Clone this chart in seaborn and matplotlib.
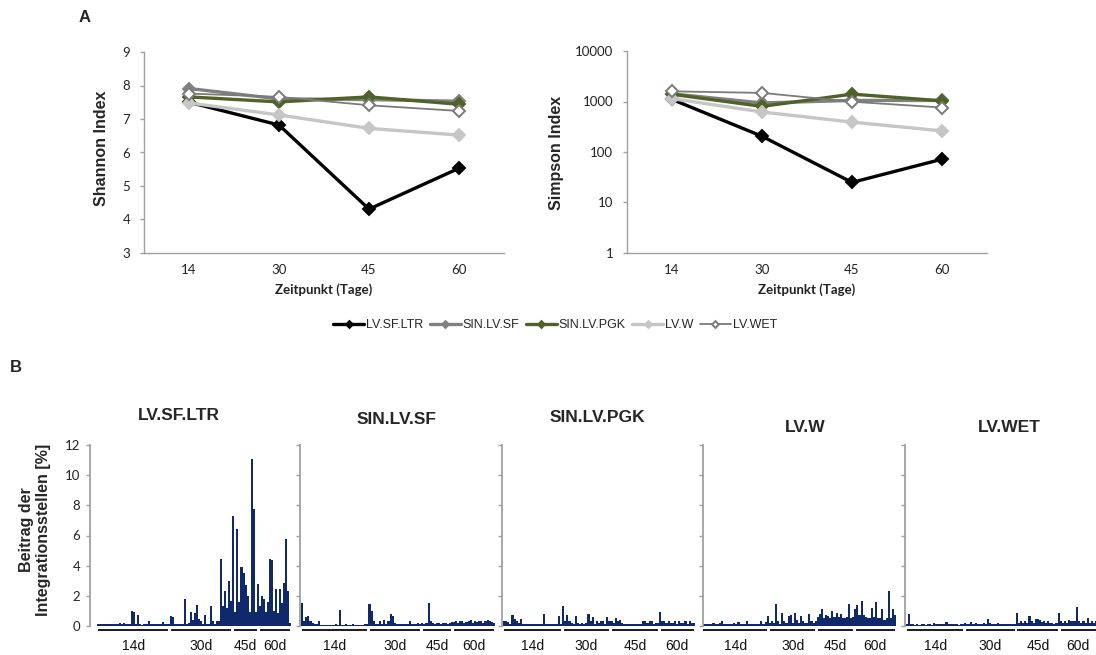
import numpy as np
import matplotlib
matplotlib.use("Agg")
import matplotlib.pyplot as plt
import matplotlib.transforms as mtransforms
import seaborn as sns

# ---------------------------------------------------------------- data (A)
days = ["14", "30", "45", "60"]
vectors = ["LV.SF.LTR", "SIN.LV.SF", "SIN.LV.PGK", "LV.W", "LV.WET"]

shannon_lv_sf_ltr = [7.50, 6.82, 4.31, 5.53]
shannon_sin_lv_sf = [7.91, 7.60, 7.58, 7.53]
shannon_sin_lv_pgk = [7.66, 7.51, 7.66, 7.44]
shannon_lv_w = [7.48, 7.12, 6.72, 6.52]
shannon_lv_wet = [7.76, 7.66, 7.41, 7.24]

simpson_lv_sf_ltr = [1100, 205, 25, 72]
simpson_sin_lv_sf = [1420, 935, 1050, 1050]
simpson_sin_lv_pgk = [1390, 800, 1400, 1030]
simpson_lv_w = [1140, 620, 390, 262]
simpson_lv_wet = [1590, 1480, 990, 760]

# ---------------------------------------------------------------- data (B)
# Beitrag einzelner Integrationsstellen [%] je Vektor und Zeitpunkt
group_labels = ["14d", "30d", "45d", "60d"]

ltr_14 = [0.15, 0.15, 0.1, 0.1, 0.15, 0.1, 0.15, 0.1, 0.1, 0.15,
          0.1, 0.2, 0.15, 0.2, 0.1, 0.15, 0.1, 1.0, 0.9, 0.1,
          0.73, 0.1, 0.05, 0.1, 0.1, 0.35, 0.15, 0.1, 0.1, 0.15,
          0.1, 0.1, 0.25, 0.15, 0.1, 0.1]
ltr_30 = [0.65, 0.6, 0.1, 0.15, 0.1, 0.15, 0.1, 1.8, 0.15, 0.2,
          0.9, 0.4, 0.88, 1.4, 0.45, 0.3, 0.1, 0.73, 0.15, 0.1,
          1.35, 0.3, 0.15, 0.3, 0.3, 4.45, 1.35, 2.3, 1.2, 3.0,
          1.65]
ltr_45 = [7.3, 0.9, 6.4, 1.6, 3.9, 3.5, 2.7, 2.0, 0.9, 11.1,
          7.75, 0.9, 2.76]
ltr_60 = [1.35, 2.0, 1.77, 0.9, 1.6, 4.45, 4.37, 1.0, 2.45, 0.88,
          2.45, 1.55, 2.83, 5.8, 2.3, 0.2]

sf_14 = [1.5, 0.3, 0.6, 0.64, 0.3, 0.2, 0.15, 0.1, 0.35, 0.05,
         0.05, 0.05, 0.05, 0.05, 0.05, 0.05, 0.1, 0.05, 1.05, 0.05,
         0.05, 0.1, 0.05, 0.05, 0.1, 0.05, 0.05, 0.05, 0.05, 0.05,
         0.1, 0.15]
sf_30 = [1.45, 0.98, 0.3, 0.15, 0.1, 0.3, 0.15, 0.4, 0.1, 0.3,
         0.8, 0.65, 0.2, 0.1, 0.15, 0.1, 0.1, 0.15, 0.1, 0.35,
         0.15, 0.1, 0.15, 0.2, 0.15]
sf_45 = [0.2, 0.15, 0.2, 1.5, 0.3, 0.2, 0.15, 0.2, 0.2, 0.15,
         0.2, 0.2, 0.15, 0.2, 0.25]
sf_60 = [0.25, 0.3, 0.2, 0.3, 0.35, 0.2, 0.25, 0.3, 0.4, 0.2,
         0.3, 0.25, 0.3, 0.3, 0.2, 0.3, 0.4, 0.3, 0.25, 0.2]

pgk_14 = [0.35, 0.3, 0.25, 0.15, 0.75, 0.45, 0.3, 0.2, 0.45, 0.1,
          0.1, 0.15, 0.1, 0.1, 0.1, 0.15, 0.1, 0.1, 0.15, 0.8,
          0.1, 0.1, 0.15, 0.1, 0.1, 0.1, 0.64, 0.1]
pgk_30 = [1.3, 0.35, 0.75, 0.3, 0.2, 0.15, 0.64, 0.2, 0.15, 0.2,
          0.15, 0.2, 0.82, 0.3, 0.57, 0.15, 0.3, 0.2, 0.35, 0.3,
          0.15, 0.57, 0.35]
pgk_45 = [0.35, 0.2, 0.55, 0.3, 0.4, 0.2, 0.15, 0.1, 0.15, 0.1,
          0.1, 0.15, 0.1, 0.15, 0.1, 0.3, 0.35, 0.2, 0.3, 0.35,
          0.15, 0.2, 0.2]
pgk_60 = [0.9, 0.35, 0.3, 0.2, 0.35, 0.2, 0.2, 0.3, 0.15, 0.3,
          0.2, 0.2, 0.3, 0.15, 0.3, 0.2, 0.2]

w_14 = [0.15, 0.1, 0.15, 0.1, 0.15, 0.2, 0.1, 0.15, 0.2, 0.3,
        0.15, 0.1, 0.1, 0.15, 0.1, 0.2, 0.1, 0.25, 0.15, 0.1,
        0.1, 0.3, 0.15, 0.1, 0.1, 0.15, 0.1, 0.1, 0.35, 0.15,
        0.25, 0.64]
w_30 = [0.2, 0.3, 0.2, 1.43, 0.3, 0.15, 0.86, 0.3, 0.2, 0.68,
        0.75, 0.2, 0.86, 0.4, 0.2, 0.64, 0.3, 0.2, 0.2, 0.82,
        0.3, 0.2, 0.3]
w_45 = [0.6, 0.8, 1.13, 0.5, 0.7, 0.68, 0.5, 0.98, 0.6, 0.86,
        0.6, 0.82, 0.5, 0.5, 0.6, 1.43, 0.5, 0.6]
w_60 = [1.1, 1.36, 0.7, 1.66, 0.7, 0.6, 0.5, 0.5, 1.2, 0.6,
        1.6, 0.5, 0.5, 1.13, 0.4, 0.5, 2.34, 0.5, 1.1, 0.7]

wet_14 = [0.1, 0.82, 0.1, 0.1, 0.05, 0.1, 0.05, 0.1, 0.1, 0.05,
          0.1, 0.15, 0.05, 0.2, 0.1, 0.15, 0.1, 0.15, 0.1, 0.25,
          0.1, 0.1, 0.15, 0.1, 0.1, 0.05, 0.1, 0.1]
wet_30 = [0.2, 0.1, 0.15, 0.25, 0.1, 0.2, 0.15, 0.1, 0.15, 0.2,
          0.1, 0.48, 0.2, 0.1, 0.15, 0.1, 0.2, 0.1, 0.15, 0.1,
          0.15, 0.1, 0.1, 0.1, 0.15]
wet_45 = [0.86, 0.2, 0.3, 0.2, 0.3, 0.2, 0.64, 0.3, 0.2, 0.48,
          0.45, 0.4, 0.25, 0.3, 0.2, 0.35, 0.2, 0.2, 0.15, 0.2,
          0.86]
wet_60 = [0.3, 0.2, 0.35, 0.2, 0.4, 0.3, 0.35, 0.3, 1.25, 0.35,
          0.2, 0.3, 0.2, 0.52, 0.2, 0.3, 0.2, 0.3]

clonality = {
    "LV.SF.LTR": [ltr_14, ltr_30, ltr_45, ltr_60],
    "SIN.LV.SF": [sf_14, sf_30, sf_45, sf_60],
    "SIN.LV.PGK": [pgk_14, pgk_30, pgk_45, pgk_60],
    "LV.W": [w_14, w_30, w_45, w_60],
    "LV.WET": [wet_14, wet_30, wet_45, wet_60],
}

# ---------------------------------------------------------------- styling
sns.set_theme(style="white")
plt.rcParams["font.family"] = ["Liberation Sans", "DejaVu Sans"]

W, H = 1096, 655
fig = plt.figure(figsize=(W / 100, H / 100), dpi=100)


def fx(px):
    return px / W


def fy(py):
    return 1 - py / H


AXIS_GREY = "#a0a0a0"
NAVY = "#10296a"
TICK_FONT = {"family": "Lato", "size": 9.5}

series_style = {
    "LV.SF.LTR": dict(color="black", lw=2.4, mfc="black", mec="black", ms=6),
    "SIN.LV.SF": dict(color="#808080", lw=2.4, mfc="#808080", mec="#808080", ms=6),
    "SIN.LV.PGK": dict(color="#4f6228", lw=2.4, mfc="#4f6228", mec="#4f6228", ms=6),
    "LV.W": dict(color="#c6c6c6", lw=2.4, mfc="#c6c6c6", mec="#c6c6c6", ms=6),
    "LV.WET": dict(color="#7a7a7a", lw=1.3, mfc="white", mec="#7a7a7a", ms=6.5),
}

shannon = dict(zip(vectors, [shannon_lv_sf_ltr, shannon_sin_lv_sf, shannon_sin_lv_pgk,
                             shannon_lv_w, shannon_lv_wet]))
simpson = dict(zip(vectors, [simpson_lv_sf_ltr, simpson_sin_lv_sf, simpson_sin_lv_pgk,
                             simpson_lv_w, simpson_lv_wet]))

pos = np.arange(len(days))


def diversity_axes(rect, values, log=False):
    ax = fig.add_axes(rect)
    for name in vectors:
        st = series_style[name]
        sns.lineplot(x=pos, y=values[name], ax=ax, color=st["color"], lw=st["lw"],
                     marker="D", markersize=st["ms"], markerfacecolor=st["mfc"],
                     markeredgecolor=st["mec"], markeredgewidth=1.4, label=name)
    if ax.get_legend() is not None:
        ax.get_legend().remove()
    ax.set_xlim(-0.5, len(days) - 0.5)
    ax.set_xticks(pos)
    ax.set_xticklabels(days, fontdict=TICK_FONT)
    if log:
        ax.set_yscale("log")
        ax.set_ylim(1, 10000)
        ticks = [1, 10, 100, 1000, 10000]
        ax.set_yticks(ticks)
        ax.set_yticklabels([str(t) for t in ticks], fontdict=TICK_FONT)
        ax.minorticks_off()
    else:
        ax.set_ylim(3, 9)
        ticks = list(range(3, 10))
        ax.set_yticks(ticks)
        ax.set_yticklabels([str(t) for t in ticks], fontdict=TICK_FONT)
    sns.despine(ax=ax)
    for s in ("left", "bottom"):
        ax.spines[s].set_color(AXIS_GREY)
        ax.spines[s].set_linewidth(1.0)
    ax.tick_params(axis="y", direction="out", length=3, width=1.0, color=AXIS_GREY,
                   pad=7, left=True, labelcolor="#222222")
    ax.tick_params(axis="x", length=0, pad=8, labelcolor="#222222")
    ax.set_xlabel("")
    ax.set_ylabel("")
    return ax


axA1 = diversity_axes([fx(144), fy(253), (504 - 144) / W, (253 - 52) / H], shannon)
axA2 = diversity_axes([fx(627), fy(253), (987 - 627) / W, (253 - 51) / H], simpson, log=True)

fig.text(fx(102), fy(148), "Shannon Index", rotation=90, ha="center", va="center",
         fontsize=11.5, fontweight="bold")
fig.text(fx(557), fy(153), "Simpson Index", rotation=90, ha="center", va="center",
         fontsize=11.5, fontweight="bold")
for x in (324, 807):
    fig.text(fx(x), fy(290), "Zeitpunkt (Tage)", ha="center", va="center",
             family="Lato", fontsize=9.5, fontweight="bold", color="#222222")

handles, labels = axA1.get_legend_handles_labels()
leg = fig.legend(handles, labels, loc="center", bbox_to_anchor=(fx(555), fy(325)),
                 ncol=5, frameon=False, fontsize=9, handlelength=2.5,
                 handletextpad=0.15, columnspacing=0.5)
for h in leg.legend_handles:
    h.set_markersize(3.5)

fig.text(fx(85), fy(17), "A", ha="center", va="center", fontsize=12, fontweight="bold")
fig.text(fx(16), fy(368), "B", ha="center", va="center", fontsize=12, fontweight="bold")

# ---------------------------------------------------------------- panel B
# pixel frame of each small multiple: axis left/right, bar extent, title anchor
panels = [
    dict(name="LV.SF.LTR", left=90, right=300, b0=97, b1=291, tx=179, ty=415),
    dict(name="SIN.LV.SF", left=300, right=502, b0=301, b1=495, tx=397, ty=419),
    dict(name="SIN.LV.PGK", left=502, right=703, b0=503, b1=695, tx=597, ty=417),
    dict(name="LV.W", left=703, right=905, b0=702, b1=896, tx=805, ty=428),
    dict(name="LV.WET", left=905, right=1107, b0=906, b1=1097, tx=1009, ty=428),
]
B_TOP, B_BOTTOM = 445, 626

for i, p in enumerate(panels):
    groups = clonality[p["name"]]
    vals = np.concatenate([np.asarray(g, dtype=float) for g in groups])
    n = len(vals)
    ax = fig.add_axes([fx(p["left"]), fy(B_BOTTOM), (p["right"] - p["left"]) / W,
                       (B_BOTTOM - B_TOP) / H])
    sns.barplot(x=np.arange(n), y=vals, ax=ax, color=NAVY, saturation=1, width=1.0,
                linewidth=0, errorbar=None, native_scale=True)
    scale = n / (p["b1"] - p["b0"])
    ax.set_xlim(-0.5 - (p["b0"] - p["left"]) * scale,
                n - 0.5 + (p["right"] - p["b1"]) * scale)
    ax.set_ylim(0, 12)
    ax.set_yticks(range(0, 13, 2))
    if i == 0:
        ax.set_yticklabels([str(t) for t in range(0, 13, 2)],
                           fontdict={"family": "Lato", "size": 9.5})
    else:
        ax.set_yticklabels([])
    ax.set_xticks([])
    ax.set_xlabel("")
    ax.set_ylabel("")
    sns.despine(ax=ax, bottom=True)
    ax.spines["left"].set_color(AXIS_GREY)
    ax.spines["left"].set_linewidth(1.3)
    ax.tick_params(axis="y", direction="out", length=3, width=1.0, color=AXIS_GREY,
                   pad=4, left=True, labelcolor="#222222")
    ax.patch.set_alpha(0)

    trans = mtransforms.blended_transform_factory(ax.transData, ax.transAxes)
    y_line = -(629.5 - B_BOTTOM) / (B_BOTTOM - B_TOP)
    y_text = -(646 - B_BOTTOM) / (B_BOTTOM - B_TOP)
    start = 0
    for g, lab in zip(groups, group_labels):
        end = start + len(g) - 1
        ax.plot([start - 0.5 + 0.7, end + 0.5 - 0.7], [y_line, y_line], transform=trans,
                color="#1a1a1a", lw=1.4, clip_on=False, solid_capstyle="butt")
        ax.text((start + end) / 2, y_text, lab, transform=trans, ha="center",
                va="center", fontsize=10, color="#111111")
        start = end + 1

    fig.text(fx(p["tx"]), fy(p["ty"]), p["name"], ha="center", va="center",
             fontsize=12.5, fontweight="bold")

fig.text(fx(35), fy(530), "Beitrag der\nIntegrationsstellen [%]", rotation=90,
         ha="center", va="center", multialignment="center", fontsize=11.5,
         fontweight="bold", linespacing=1.15)

fig.savefig("out.png", dpi=100)
